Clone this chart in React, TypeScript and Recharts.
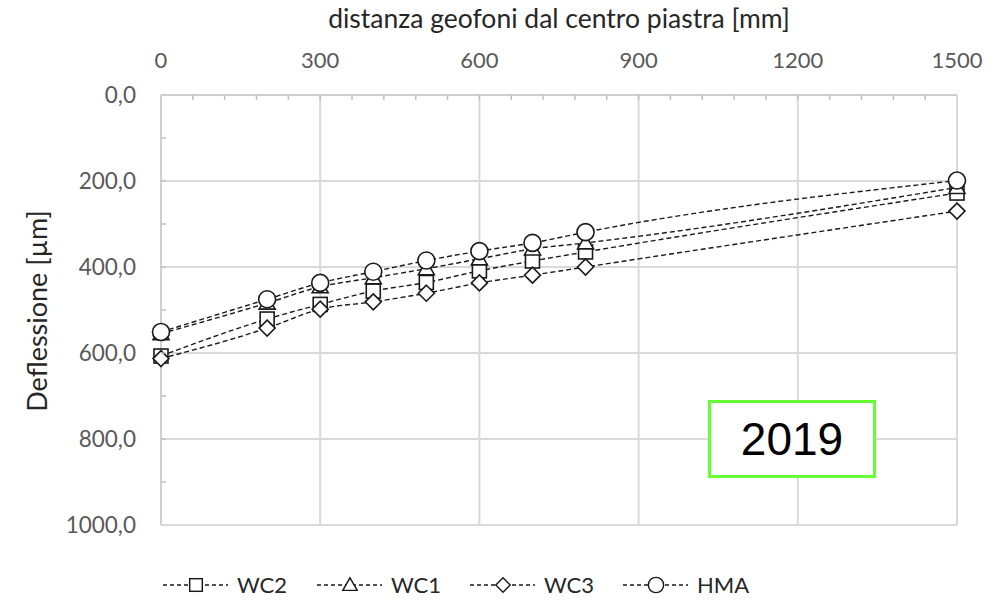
import React from "react";
import { LineChart, Line, XAxis, YAxis, CartesianGrid } from "recharts";

const distances = [0, 200, 300, 400, 500, 600, 700, 800, 1500];
const wc2 = [607, 521, 487, 456, 436, 409, 386, 365, 228];
const wc1 = [555, 484, 446, 425, 404, 381, 358, 344, 215];
const wc3 = [613, 542, 498, 481, 461, 437, 419, 400, 270];
const hma = [551, 475, 437, 411, 385, 363, 344, 319, 199];

const xTicks = [0, 60, 120, 180, 240, 300, 360, 420, 480, 540, 600, 660, 720, 780, 840, 900, 960, 1020, 1080, 1140, 1200, 1260, 1320, 1380, 1440, 1500];
const xMajor = [0, 300, 600, 900, 1200, 1500];
const yTicks = [0, 100, 200, 300, 400, 500, 600, 700, 800, 900, 1000];
const yMajor = [0, 200, 400, 600, 800, 1000];

const seriesNames = ["WC2", "WC1", "WC3", "HMA"];
const xTitle = "distanza geofoni dal centro piastra [mm]";
const yTitle = "Deflessione [µm]";
const boxLabel = "2019";

const data = distances.map((d, i) => ({ d, WC2: wc2[i], WC1: wc1[i], WC3: wc3[i], HMA: hma[i] }));

const FONT = "Lato, 'Open Sans', sans-serif";
const LABEL = "#595959";
const GRID = "#d9d9d9";
const LINE = "#1a1a1a";

function Marker({ kind, cx, cy }: { kind: string; cx: number; cy: number }) {
  const s = { fill: "#fff", stroke: LINE, strokeWidth: 1.6 } as any;
  if (kind === "WC2") return <rect x={cx - 7} y={cy - 7} width={14} height={14} {...s} />;
  if (kind === "WC1")
    return <polygon points={`${cx},${cy - 8} ${cx + 8},${cy + 6} ${cx - 8},${cy + 6}`} {...s} />;
  if (kind === "WC3")
    return <polygon points={`${cx},${cy - 8} ${cx + 8},${cy} ${cx},${cy + 8} ${cx - 8},${cy}`} {...s} />;
  return <circle cx={cx} cy={cy} r={8.5} {...s} />;
}

const makeDot = (kind: string) => (props: any) => {
  if (props.cx == null || props.cy == null) return <g key={props.key} />;
  return <g key={props.key}><Marker kind={kind} cx={props.cx} cy={props.cy} /></g>;
};

const XTick = (props: any) => {
  const { x, payload } = props;
  const v = payload.value;
  const top = 95;
  return (
    <g>
      {v !== 0 && v !== 1500 && <line x1={x} x2={x} y1={top} y2={top + 5} stroke="#bfbfbf" strokeWidth={1.5} />}
      {xMajor.includes(v) && (
        <text x={x} y={68} textAnchor="middle" fontFamily={FONT} fontSize={22} fill={LABEL}>
          {v}
        </text>
      )}
    </g>
  );
};

const YTick = (props: any) => {
  const { y, payload } = props;
  const v = payload.value;
  const left = 161;
  return (
    <g>
      {v !== 0 && v !== 1000 && <line x1={left} x2={left + 5} y1={y} y2={y} stroke="#bfbfbf" strokeWidth={1.5} />}
      {yMajor.includes(v) && (
        <text x={136} y={y + 8} textAnchor="end" fontFamily={FONT} fontSize={22.5} fill={LABEL}>
          {v.toFixed(1).replace(".", ",")}
        </text>
      )}
    </g>
  );
};

function LegendOverlay() {
  const starts = [163, 317, 470, 623];
  return (
    <svg width={996} height={40} style={{ position: "absolute", left: 0, top: 565 }}>
      {seriesNames.map((n, i) => {
        const x0 = starts[i];
        return (
          <g key={n}>
            <line x1={x0} x2={x0 + 65} y1={20} y2={20} stroke={LINE} strokeWidth={1.3} strokeDasharray="4 3" />
            <g transform={`translate(${x0 + 33},20) scale(0.9)`}>
              <Marker kind={n} cx={0} cy={0} />
            </g>
            <text x={x0 + 74} y={28} fontFamily={FONT} fontSize={22} fill="#262626">
              {n}
            </text>
          </g>
        );
      })}
    </svg>
  );
}

export default function App() {
  const order = ["WC2", "WC1", "WC3", "HMA"];
  return (
    <div style={{ position: "absolute", left: 0, top: 0, width: 996, height: 600, background: "#fff" }}>
      <LineChart width={996} height={600} data={data} margin={{ top: 0, right: 39, bottom: 75, left: 0 }}>
        <CartesianGrid
          stroke={GRID}
          strokeWidth={2}
          verticalValues={[300, 600, 900, 1200, 1500]}
          horizontalValues={[200, 400, 600, 800, 1000]}
        />
        <XAxis
          xAxisId={0}
          dataKey="d"
          type="number"
          orientation="top"
          domain={[0, 1500]}
          ticks={xTicks}
          interval={0}
          height={95}
          axisLine={{ stroke: "#bfbfbf", strokeWidth: 1.5 }}
          tickLine={false}
          tick={<XTick />}
          label={{
            content: (p: any) => (
              <text x={559} y={28} textAnchor="middle" fontFamily={FONT} fontSize={26.5} fill="#262626">
                {xTitle}
              </text>
            ),
          }}
        />
        <YAxis
          yAxisId={0}
          type="number"
          reversed
          domain={[0, 1000]}
          ticks={yTicks}
          interval={0}
          width={161}
          axisLine={{ stroke: "#bfbfbf", strokeWidth: 1.5 }}
          tickLine={false}
          tick={<YTick />}
          label={{
            content: () => (
              <text
                x={0}
                y={0}
                transform="translate(47,311) rotate(-90)"
                textAnchor="middle"
                fontFamily={FONT}
                fontSize={27}
                fill="#262626"
              >
                {yTitle}
              </text>
            ),
          }}
        />
        {order.map((k) => (
          <Line
            key={k}
            dataKey={k}
            type="monotone"
            stroke={LINE}
            strokeWidth={1.4}
            strokeDasharray="5 3"
            dot={makeDot(k)}
            activeDot={false}
            isAnimationActive={false}
          />
        ))}
      </LineChart>
      <div
        style={{
          position: "absolute",
          left: 708,
          top: 400,
          width: 162,
          height: 72,
          border: "3px solid #66ff33",
          display: "flex",
          alignItems: "center",
          justifyContent: "center",
          fontFamily: "'Liberation Sans', Arial, sans-serif",
          fontSize: 46,
          color: "#000",
          background: "#fff",
        }}
      >
        {boxLabel}
      </div>
      <LegendOverlay />
    </div>
  );
}
